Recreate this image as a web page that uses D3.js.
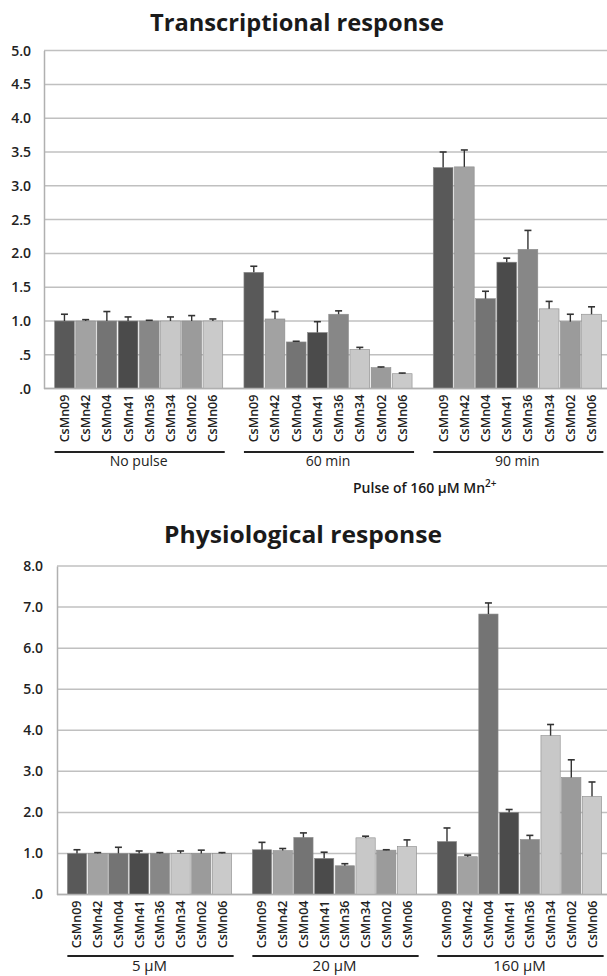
<!DOCTYPE html>
<html>
<head>
<meta charset="utf-8">
<script src="https://cdn.jsdelivr.net/npm/d3@7"></script>
<style>
  body { margin: 0; background: #fff; }
  svg { display: block; font-family: "Open Sans", sans-serif; }
</style>
</head>
<body>
<div id="chart"></div>
<script>
// strains, in bar order inside every group
const strains = ["CsMn09", "CsMn42", "CsMn04", "CsMn41", "CsMn36", "CsMn34", "CsMn02", "CsMn06"];
const strainColors = ["#595959", "#a2a2a2", "#747474", "#4b4b4b", "#878787", "#c8c8c8", "#9b9b9b", "#cacaca"];

// transcriptional response
const transGroups = ["No pulse", "60 min", "90 min"];
const transMeans = [
  [1.00, 1.00, 1.00, 1.00, 1.00, 1.00, 1.00, 1.00],
  [1.72, 1.03, 0.69, 0.83, 1.10, 0.58, 0.31, 0.22],
  [3.27, 3.28, 1.33, 1.87, 2.06, 1.18, 0.99, 1.10]
];
const transErr = [
  [0.10, 0.02, 0.14, 0.06, 0.01, 0.06, 0.08, 0.03],
  [0.09, 0.11, 0.01, 0.16, 0.05, 0.03, 0.01, 0.01],
  [0.23, 0.25, 0.11, 0.06, 0.28, 0.11, 0.11, 0.11]
];
const transTicks = [0, 0.5, 1, 1.5, 2, 2.5, 3, 3.5, 4, 4.5, 5];

// physiological response
const physGroups = ["5 µM", "20 µM", "160 µM"];
const physMeans = [
  [1.00, 1.00, 1.00, 1.00, 1.00, 1.00, 1.00, 1.00],
  [1.09, 1.07, 1.39, 0.88, 0.70, 1.38, 1.08, 1.17],
  [1.29, 0.92, 6.83, 2.00, 1.34, 3.87, 2.85, 2.39]
];
const physErr = [
  [0.09, 0.02, 0.15, 0.06, 0.02, 0.06, 0.08, 0.02],
  [0.18, 0.05, 0.11, 0.15, 0.05, 0.04, 0.01, 0.16],
  [0.33, 0.04, 0.27, 0.07, 0.10, 0.27, 0.43, 0.35]
];
const physTicks = [0, 1, 2, 3, 4, 5, 6, 7, 8];

const W = 607, H = 976;
const svg = d3.select("#chart").append("svg")
  .attr("width", W)
  .attr("height", H);

// ".0", ".5", "1.0" ... like the original axis
const fmt = v => d3.format(".1f")(v).replace(/^0\./, ".");

function panel(o) {
  const g = svg.append("g");

  const y = d3.scaleLinear().domain([0, o.ticks[o.ticks.length - 1]]).range([o.bottom, o.top]);
  const xg = d3.scaleBand().domain(o.groups).range([o.left, 612]);
  const xb = d3.scaleBand().domain(strains).range([0, xg.bandwidth()])
    .paddingInner(0.07).paddingOuter(0.5);

  // title
  g.append("text")
    .attr("x", o.titleX)
    .attr("y", o.titleY)
    .attr("text-anchor", "middle")
    .attr("textLength", o.titleLen)
    .attr("lengthAdjust", "spacingAndGlyphs")
    .style("font-size", "23px")
    .style("font-weight", "bold")
    .style("fill", "#1a1a1a")
    .text(o.title);

  // gridlines
  g.append("g")
    .selectAll("line")
    .data(o.ticks)
    .join("line")
      .attr("x1", o.left)
      .attr("x2", W)
      .attr("y1", d => y(d))
      .attr("y2", d => y(d))
      .attr("stroke", "#c0c0c0")
      .attr("stroke-width", 1.5);

  // y axis
  const ya = g.append("g")
    .attr("transform", "translate(" + o.left + ",0)")
    .call(d3.axisLeft(y).tickValues(o.ticks).tickFormat(fmt).tickSize(0).tickPadding(o.left - o.labelRight));
  ya.select(".domain").attr("stroke", "#b0b0b0").attr("stroke-width", 1.5);
  ya.selectAll("text")
    .style("font-size", "14px")
    .style("font-weight", "600")
    .style("fill", "#222")
    .style("font-family", "'Open Sans', sans-serif");

  // bars
  const groups = g.append("g")
    .selectAll("g")
    .data(o.groups)
    .join("g")
      .attr("transform", d => "translate(" + xg(d) + ",0)");

  groups.selectAll("rect")
    .data((d, i) => strains.map((s, j) => ({s: s, j: j, v: o.means[i][j], e: o.err[i][j]})))
    .join("rect")
      .attr("x", d => xb(d.s))
      .attr("width", xb.bandwidth())
      .attr("y", d => y(d.v))
      .attr("height", d => y(0) - y(d.v))
      .attr("fill", d => strainColors[d.j])
      .attr("stroke", "#8c8c8c")
      .attr("stroke-width", 0.6);

  // upper error whiskers
  const eb = groups.selectAll(".err")
    .data((d, i) => strains.map((s, j) => ({s: s, v: o.means[i][j], e: o.err[i][j]})))
    .join("g")
      .attr("class", "err");
  eb.append("line")
    .attr("x1", d => xb(d.s) + xb.bandwidth() / 2)
    .attr("x2", d => xb(d.s) + xb.bandwidth() / 2)
    .attr("y1", d => y(d.v))
    .attr("y2", d => y(d.v + d.e))
    .attr("stroke", "#333")
    .attr("stroke-width", 1.4);
  eb.append("line")
    .attr("x1", d => xb(d.s) + xb.bandwidth() / 2 - 3.5)
    .attr("x2", d => xb(d.s) + xb.bandwidth() / 2 + 3.5)
    .attr("y1", d => y(d.v + d.e))
    .attr("y2", d => y(d.v + d.e))
    .attr("stroke", "#333")
    .attr("stroke-width", 1.6);

  // strain labels, rotated
  groups.selectAll(".lab")
    .data(strains)
    .join("text")
      .attr("class", "lab")
      .attr("transform", d => "translate(" + (xb(d) + xb.bandwidth() / 2 + 4.5) + "," + (y(0) + 6) + ") rotate(-90)")
      .attr("text-anchor", "end")
      .style("font-size", "12.5px")
      .style("font-weight", "600")
      .style("fill", "#222")
      .text(d => d);

  // x baseline
  g.append("line")
    .attr("x1", o.left)
    .attr("x2", W)
    .attr("y1", y(0))
    .attr("y2", y(0))
    .attr("stroke", "#b0b0b0")
    .attr("stroke-width", 1.5);

  // group brackets
  groups.append("line")
    .attr("x1", xb(strains[0]))
    .attr("x2", xb(strains[strains.length - 1]) + xb.bandwidth() + 2)
    .attr("y1", o.lineY)
    .attr("y2", o.lineY)
    .attr("stroke", "#222")
    .attr("stroke-width", 2);
  groups.append("text")
    .attr("x", xg.bandwidth() / 2)
    .attr("y", o.lineY + o.labelGap)
    .attr("text-anchor", "middle")
    .style("font-size", o.groupFont)
    .style("fill", "#222")
    .text(d => d);

  return {x: xg, y: y};
}

panel({
  title: "Transcriptional response", titleX: 297, titleY: 31, titleLen: 294,
  groups: transGroups, means: transMeans, err: transErr, ticks: transTicks,
  left: 44, labelRight: 31, top: 50.6, bottom: 388.6,
  lineY: 452, labelGap: 14, groupFont: "14px"
});

panel({
  title: "Physiological response", titleX: 303, titleY: 543, titleLen: 278,
  groups: physGroups, means: physMeans, err: physErr, ticks: physTicks,
  left: 57, labelRight: 43, top: 566, bottom: 894.5,
  lineY: 956, labelGap: 15, groupFont: "15px"
});

// pulse note
const note = svg.append("text")
  .attr("x", 353)
  .attr("y", 493)
  .style("font-size", "14px")
  .style("font-weight", "600")
  .style("fill", "#1a1a1a")
  .text("Pulse of 160 µM Mn");
note.append("tspan")
  .attr("dy", -6)
  .style("font-size", "10px")
  .text("2+");
</script>
</body>
</html>
